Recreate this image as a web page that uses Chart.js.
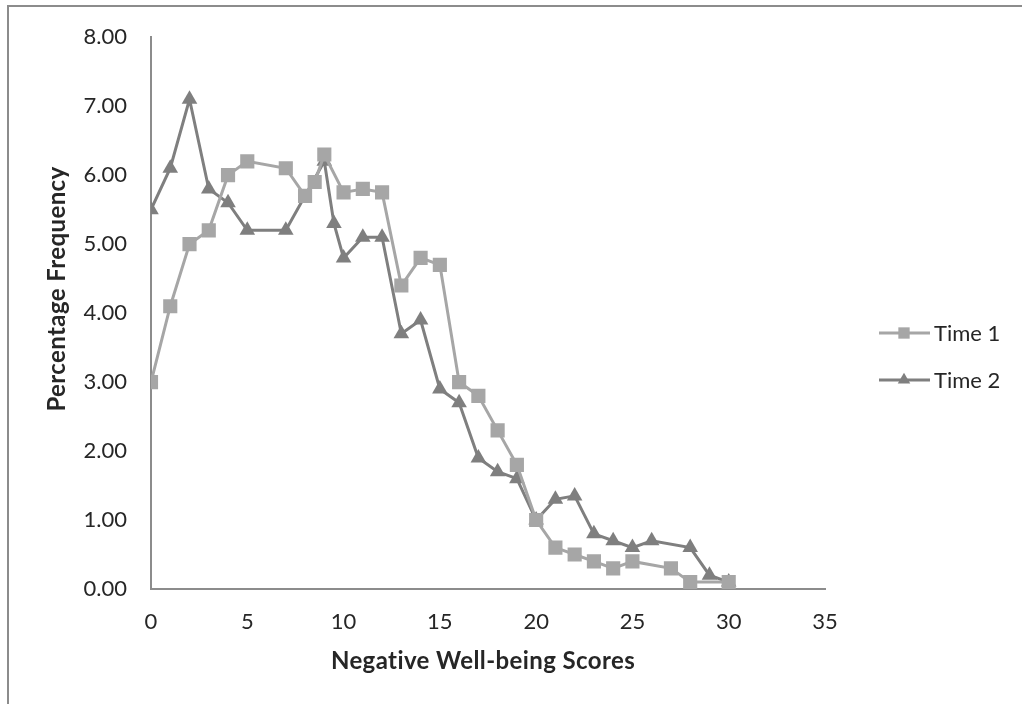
<!DOCTYPE html>
<html>
<head>
<meta charset="utf-8">
<script src="https://cdn.jsdelivr.net/npm/chart.js@4/dist/chart.umd.min.js"></script>
<style>
  html, body { margin: 0; padding: 0; background: #ffffff; }
  #wrap { position: relative; width: 1022px; height: 704px; overflow: hidden; }
  #frame { position: absolute; left: 7px; top: 5px; width: 1100px; height: 800px;
           border-left: 2px solid #8c8c8c; border-top: 2px solid #8c8c8c; box-sizing: border-box; }
  canvas { position: absolute; left: 0; top: 0; }
</style>
</head>
<body>
<div id="wrap">
  <div id="frame"></div>
  <canvas id="c" width="1022" height="704"></canvas>
</div>
<script>
// Negative well-being score distribution at two time points
const seriesNames = ['Time 1', 'Time 2'];
const time1Scores = [0, 1, 2, 3, 4, 5, 7, 8, 8.5, 9, 10, 11, 12, 13, 14, 15, 16, 17, 18, 19, 20, 21, 22, 23, 24, 25, 27, 28, 30];
const time1Pct    = [3.0, 4.1, 5.0, 5.2, 6.0, 6.2, 6.1, 5.7, 5.9, 6.3, 5.75, 5.8, 5.75, 4.4, 4.8, 4.7, 3.0, 2.8, 2.3, 1.8, 1.0, 0.6, 0.5, 0.4, 0.3, 0.4, 0.3, 0.1, 0.1];
const time2Scores = [0, 1, 2, 3, 4, 5, 7, 9, 9.5, 10, 11, 12, 13, 14, 15, 16, 17, 18, 19, 20, 21, 22, 23, 24, 25, 26, 28, 29, 30];
const time2Pct    = [5.5, 6.1, 7.1, 5.8, 5.6, 5.2, 5.2, 6.2, 5.3, 4.8, 5.1, 5.1, 3.7, 3.9, 2.9, 2.7, 1.9, 1.7, 1.6, 1.0, 1.3, 1.35, 0.8, 0.7, 0.6, 0.7, 0.6, 0.2, 0.1];
const xTitle = 'Negative Well-being Scores';
const yTitle = 'Percentage Frequency';

const FONT = 'Lato, "Open Sans", sans-serif';
const TEXT = '#262626';
const AXIS = '#8c8c8c';
const C1 = '#a6a6a6';
const C2 = '#7f7f7f';

const toPoints = (xs, ys) => xs.map((x, i) => ({ x: x, y: ys[i] }));

// Axis titles and side legend drawn onto the canvas
const extras = {
  id: 'extras',
  afterDraw(chart) {
    const ctx = chart.ctx;
    const area = chart.chartArea;
    ctx.save();
    ctx.fillStyle = TEXT;
    ctx.font = 'bold 24px ' + FONT;
    if ('letterSpacing' in ctx) ctx.letterSpacing = '0.4px';
    ctx.textAlign = 'center';
    ctx.textBaseline = 'middle';
    ctx.fillText(xTitle, (area.left + area.right) / 2 - 5, 661);
    ctx.translate(57, 289);
    ctx.rotate(-Math.PI / 2);
    ctx.fillText(yTitle, 0, 0);
    ctx.restore();

    // legend
    const rows = [333, 380];
    chart.data.datasets.forEach((ds, i) => {
      const y = rows[i];
      ctx.save();
      ctx.strokeStyle = ds.borderColor;
      ctx.lineWidth = 3;
      ctx.beginPath();
      ctx.moveTo(879, y);
      ctx.lineTo(930, y);
      ctx.stroke();
      ctx.fillStyle = ds.pointBackgroundColor;
      ctx.strokeStyle = ds.pointBackgroundColor;
      Chart.helpers.drawPoint(ctx, { pointStyle: ds.pointStyle, radius: ds.pointRadius * 0.8, borderWidth: 0 }, 904, y);
      ctx.fillStyle = TEXT;
      ctx.font = '22px ' + FONT;
      ctx.textAlign = 'left';
      ctx.textBaseline = 'middle';
      ctx.fillText(ds.label, 934, y + 1);
      ctx.restore();
    });
  }
};

new Chart(document.getElementById('c'), {
  type: 'line',
  data: {
    datasets: [
      {
        label: seriesNames[0],
        data: toPoints(time1Scores, time1Pct),
        borderColor: C1,
        backgroundColor: C1,
        pointBackgroundColor: C1,
        pointBorderColor: C1,
        pointBorderWidth: 0,
        borderWidth: 3,
        pointStyle: 'rect',
        pointRadius: 10,
        tension: 0
      },
      {
        label: seriesNames[1],
        data: toPoints(time2Scores, time2Pct),
        borderColor: C2,
        backgroundColor: C2,
        pointBackgroundColor: C2,
        pointBorderColor: C2,
        pointBorderWidth: 0,
        borderWidth: 3,
        pointStyle: 'triangle',
        pointRadius: 9,
        tension: 0
      }
    ]
  },
  options: {
    responsive: false,
    animation: false,
    devicePixelRatio: 1,
    layout: { padding: { left: 10, top: 33, right: 1022 - 825, bottom: 0 } },
    plugins: { legend: { display: false }, tooltip: { enabled: false } },
    scales: {
      x: {
        type: 'linear',
        min: 0, max: 35,
        afterFit(s) { s.height = 704 - 589; },
        grid: { display: false, drawTicks: false },
        border: { color: AXIS, width: 2 },
        ticks: { stepSize: 5, padding: 20, color: TEXT, font: { family: FONT, size: 22 } }
      },
      y: {
        min: 0, max: 8,
        afterFit(s) { s.width = 151 - 10; },
        grid: { display: false, drawTicks: false },
        border: { color: AXIS, width: 2 },
        ticks: {
          stepSize: 1, padding: 24, color: TEXT, font: { family: FONT, size: 22 },
          callback: v => v.toFixed(2)
        }
      }
    }
  },
  plugins: [extras]
});
</script>
</body>
</html>
